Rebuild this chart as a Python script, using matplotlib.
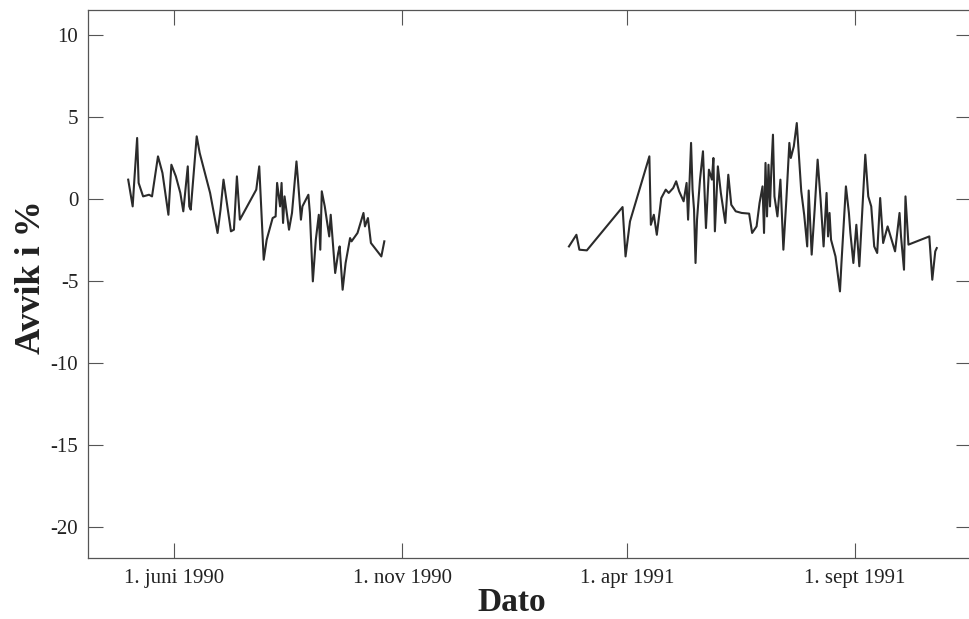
import matplotlib
matplotlib.use('Agg')
import matplotlib.pyplot as plt
import pandas as pd

# Avvik i % mot dato. Dager regnet fra 1. juni 1990
startdato = pd.Timestamp('1990-06-01')

dager1990 = [-31, -28, -27, -25, -24, -21, -17, -15, -11, -8, -4, -2, 1, 4, 6, 9,
             10, 11, 13, 15, 17, 24, 29, 31, 33, 38, 40, 42, 44, 55, 57, 60, 62,
             66, 68, 69, 71, 72, 73, 74, 77, 79, 82, 83, 85, 86, 90, 91, 93, 95,
             97, 98, 99, 101, 104, 105, 108, 110, 111, 113, 115, 118, 119, 123,
             127, 128, 130, 132, 139, 141]
avvik1990 = [1.16, -0.47, 0.97, 3.7, 0.96, 0.14, 0.24, 0.14, 2.58, 1.57, -0.98,
             2.07, 1.36, 0.35, -0.77, 1.97, -0.47, -0.67, 1.57, 3.8, 2.79, 0.35,
             -2.09, -0.67, 1.16, -1.99, -1.89, 1.36, -1.28, 0.55, 1.97, -3.72,
             -2.5, -1.18, -1.08, 0.96, -0.47, 0.96, -1.48, 0.14, -1.89, -0.87,
             2.27, 1.16, -1.28, -0.47, 0.24, -0.87, -5.04, -2.5, -0.98, -3.11,
             0.45, -0.47, -2.3, -0.98, -4.53, -3.31, -2.91, -5.55, -3.92, -2.4,
             -2.6, -2.09, -0.87, -1.69, -1.18, -2.7, -3.52, -2.6]

dager1991 = [265, 270, 272, 277, 301, 303, 306, 319, 320, 322, 324, 327, 330,
             332, 335, 337, 339, 342, 344, 345, 347, 348, 349, 350, 351, 353,
             355, 357, 359, 361, 362, 363, 365, 367, 370, 372, 374, 377, 381,
             386, 388, 391, 393, 395, 396, 397, 398, 399, 400, 401, 402, 403,
             405, 407, 409, 411, 413, 414, 416, 418, 421, 423, 425, 426, 428,
             430, 432, 434, 436, 438, 439, 440, 441, 444, 447, 448, 451, 453,
             454, 456, 458, 460, 464, 466, 468, 470, 472, 474, 476, 479, 484,
             487, 488, 490, 491, 493, 507, 509, 511, 512]
avvik1991 = [-2.91, -2.2, -3.11, -3.15, -0.51, -3.52, -1.38, 2.58, -1.59, -0.98,
             -2.2, 0.04, 0.55, 0.35, 0.65, 1.06, 0.45, -0.16, 0.96, -1.28, 3.4,
             0.55, -0.67, -3.92, -1.28, 1.16, 2.89, -1.79, 1.77, 1.16, 2.48,
             -1.99, 1.97, 0.35, -1.48, 1.46, -0.37, -0.77, -0.87, -0.91, -2.09,
             -1.69, -0.26, 0.75, -2.09, 2.18, -1.08, 2.07, -0.47, 1.97, 3.9,
             0.14, -1.08, 1.16, -3.11, -0.06, 3.4, 2.48, 3.19, 4.61, 0.45, -1.0,
             -2.91, 0.5, -3.41, -0.67, 2.38, -0.06, -2.91, 0.35, -2.3, -0.87,
             -2.5, -3.52, -5.65, -3.92, 0.75, -0.87, -2.09, -3.92, -1.59, -4.12,
             2.68, 0.14, -0.47, -2.91, -3.31, 0.04, -2.7, -1.69, -3.21, -0.87,
             -2.3, -4.33, 0.14, -2.8, -2.3, -4.94, -3.21, -3.01]

xtick_datoer = ['1990-06-01', '1990-11-01', '1991-04-01', '1991-09-01']
xtick_tekst = ['1. juni 1990', '1. nov 1990', '1. apr 1991', '1. sept 1991']
ytick_verdier = [-20, -15, -10, -5, 0, 5, 10]

plt.rcParams['font.family'] = ['Liberation Serif', 'DejaVu Serif']
plt.rcParams['axes.unicode_minus'] = False

fig = plt.figure(figsize=(9.69, 6.19), dpi=100)
# hoyre kant ligger like utenfor bildet, som i originalen
ax = fig.add_axes([88 / 969, 61 / 619, 883 / 969, 548 / 619])

dato1990 = startdato + pd.to_timedelta(dager1990, unit='D')
dato1991 = startdato + pd.to_timedelta(dager1991, unit='D')
ax.plot(dato1990, avvik1990, color='#2b2b2b', lw=1.5)
ax.plot(dato1991, avvik1991, color='#2b2b2b', lw=1.5)

ax.set_xlim(startdato - pd.Timedelta(days=58), startdato + pd.Timedelta(days=535))
ax.set_ylim(-21.9, 11.5)

ax.set_xticks(pd.to_datetime(xtick_datoer))
ax.set_xticklabels(xtick_tekst)
ax.set_yticks(ytick_verdier)
ax.set_yticklabels([str(v) for v in ytick_verdier])

ax.tick_params(axis='both', direction='in', length=11, width=0.8, color='#555555',
               labelsize=15, labelcolor='#222222', top=True, right=True)
ax.tick_params(axis='x', pad=8)
ax.tick_params(axis='y', pad=7)
for s in ax.spines.values():
    s.set_color('#555555')
    s.set_linewidth(0.9)

fig.text(40 / 969, 1 - 277 / 619, 'Avvik i %', rotation=90, rotation_mode='anchor',
         ha='center', va='baseline', fontsize=26, fontweight='bold', color='#222222')
fig.text(512 / 969, 1 - 611 / 619, 'Dato', ha='center', va='baseline',
         fontsize=24, fontweight='bold', color='#222222')

fig.savefig('out.png', dpi=100)
